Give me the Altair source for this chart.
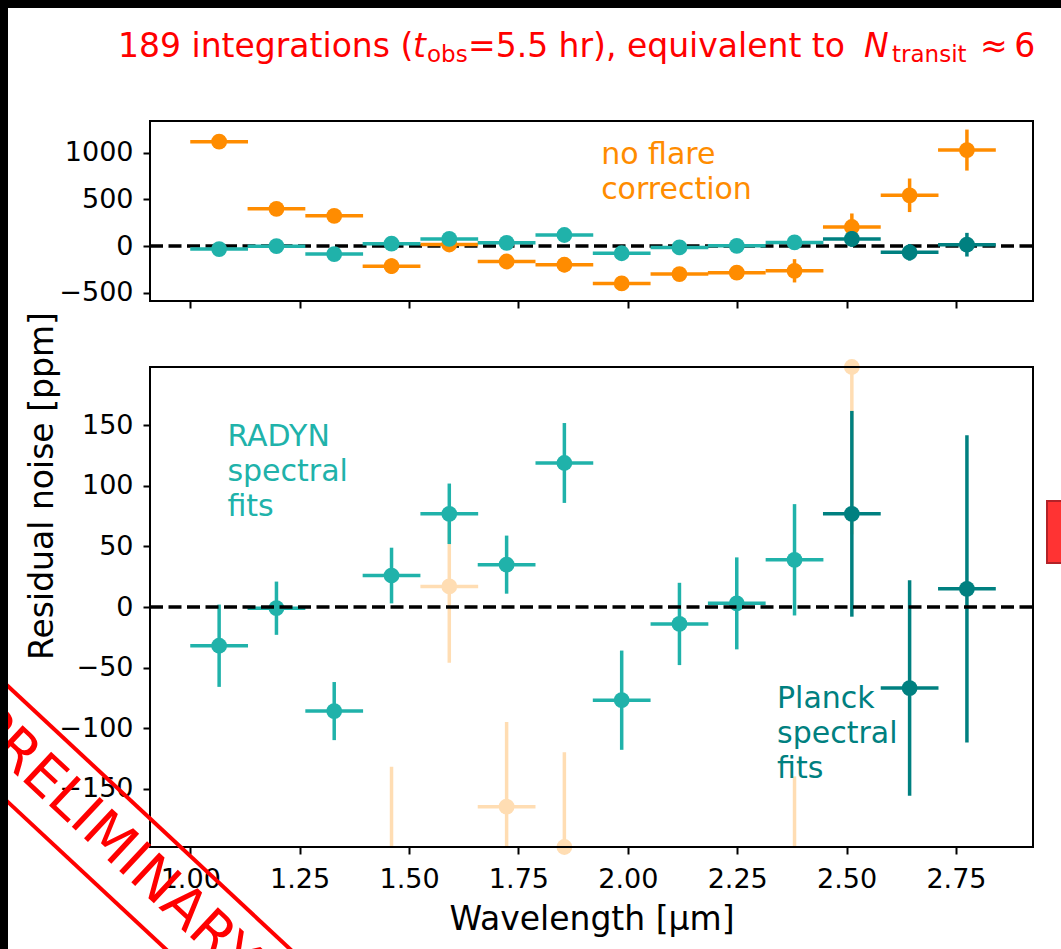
import altair as alt
import pandas as pd

# ---------------- values ----------------
wavelength = [1.066, 1.197, 1.329, 1.460, 1.592, 1.723, 1.855, 1.986, 2.118, 2.249, 2.381, 2.512, 2.644, 2.775]
bin_half_width = [0.066, 0.066, 0.066, 0.066, 0.066, 0.066, 0.066, 0.066, 0.066, 0.066, 0.066, 0.066, 0.066, 0.066]
fit_residual = [-32, -1, -86, 26, 77, 35, 119, -77, -14, 3, 39, 77, -67, 15]
fit_error = [34, 22, 24, 23, 25, 24, 33, 41, 34, 38, 46, 85, 89, 127]
fit_model = ["RADYN", "RADYN", "RADYN", "RADYN", "RADYN", "RADYN", "RADYN",
             "RADYN", "RADYN", "RADYN", "RADYN", "Planck", "Planck", "Planck"]
raw_residual = [1120, 400, 325, -215, 17, -165, -200, -400, -300, -285, -265, 205, 545, 1030]
raw_error = [40, 40, 40, 83, 63, 70, 80, 45, 45, 50, 125, 145, 180, 220]

x_domain = [0.908, 2.926]
top_y_domain = [-589, 1342]
bottom_y_domain = [-198.3, 198.3]
x_ticks = [1.0, 1.25, 1.5, 1.75, 2.0, 2.25, 2.5, 2.75]
top_y_ticks = [-500, 0, 500, 1000]
bottom_y_ticks = [-150, -100, -50, 0, 50, 100, 150]

title_parts = ["189 integrations (", "t", "obs", "=5.5 hr), equivalent to", "N", "transit", "\u2248\u20096"]
annot_noflare = ["no flare", "correction"]
annot_radyn = ["RADYN", "spectral", "fits"]
annot_planck = ["Planck", "spectral", "fits"]
x_title = "Wavelength [\u03bcm]"
y_title = "Residual noise [ppm]"
stamp_text = "PRELIMINARY"

# ---------------- tables ----------------
df = pd.DataFrame({
    "wl": wavelength,
    "hw": bin_half_width,
    "fit": fit_residual,
    "fit_err": fit_error,
    "model": fit_model,
    "raw": raw_residual,
    "raw_err": raw_error,
})
df["lo"] = df["wl"] - df["hw"]
df["hi"] = df["wl"] + df["hw"]
df["fit_lo"] = df["fit"] - df["fit_err"]
df["fit_hi"] = df["fit"] + df["fit_err"]
df["raw_lo"] = df["raw"] - df["raw_err"]
df["raw_hi"] = df["raw"] + df["raw_err"]
one = pd.DataFrame({"k": [0]})

# ---------------- styles ----------------
FONT = "DejaVu Sans"
ORANGE = "#FF8C00"
FADED = "#FFDDB3"
RADYN_C = "#20B2AA"
PLANCK_C = "#008080"
LW = 3.5
MS = 250

X = alt.Scale(domain=x_domain, range=[150, 1033], nice=False, zero=False)
YT = alt.Scale(domain=top_y_domain, range=[301, 121], nice=False, zero=False)
YB = alt.Scale(domain=bottom_y_domain, range=[847, 367], nice=False, zero=False, clamp=True)

model_color = alt.Color("model:N", scale=alt.Scale(domain=["RADYN", "Planck"], range=[RADYN_C, PLANCK_C]), legend=None)

base = alt.Chart(df)


def series(ycol, locol, hicol, yscale, color, pt_filter=None, bar_filter=None):
    xb = base
    pts = base
    if bar_filter:
        xb = xb.transform_filter(bar_filter)
    if pt_filter:
        pts = pts.transform_filter(pt_filter)
    xbar = xb.mark_rule(strokeWidth=LW).encode(
        x=alt.X("lo:Q", scale=X, axis=None), x2="hi:Q",
        y=alt.Y(f"{ycol}:Q", scale=yscale, axis=None), color=color)
    ybar = base.mark_rule(strokeWidth=LW).encode(
        x=alt.X("wl:Q", scale=X, axis=None),
        y=alt.Y(f"{locol}:Q", scale=yscale, axis=None), y2=f"{hicol}:Q", color=color)
    dots = pts.mark_circle(size=MS, opacity=1).encode(
        x=alt.X("wl:Q", scale=X, axis=None),
        y=alt.Y(f"{ycol}:Q", scale=yscale, axis=None), color=color)
    return [xbar, ybar, dots]


def zero_line(yscale):
    return alt.Chart(one).mark_rule(color="black", strokeWidth=3.5, strokeDash=[13, 5.5]).encode(
        x=alt.XDatum(x_domain[0], type="quantitative", scale=X, axis=None),
        x2=alt.X2Datum(x_domain[1]),
        y=alt.YDatum(0, type="quantitative", scale=yscale, axis=None))


def axis(orient, offset, values, labels=True, fmt=None):
    kw = dict(orient=orient, offset=offset, values=values, labels=labels, ticks=True,
              tickSize=7, tickWidth=2, tickColor="black", domain=False, grid=False,
              title=None, labelFont=FONT, labelFontSize=27, labelColor="black",
              labelPadding=12 if orient == "bottom" else 10, labelFlush=False,
              labelOverlap=False)
    if fmt:
        kw["format"] = fmt
    return alt.Axis(**kw)


def frame(yscale, ydom, yaxis, xaxis):
    return alt.Chart(one).mark_rect(fillOpacity=0, stroke="black", strokeWidth=2).encode(
        x=alt.XDatum(x_domain[0], type="quantitative", scale=X, axis=xaxis),
        x2=alt.X2Datum(x_domain[1]),
        y=alt.YDatum(ydom[0], type="quantitative", scale=yscale, axis=yaxis),
        y2=alt.Y2Datum(ydom[1]))


def data_text(lines, xv, yv, yscale, color):
    return alt.Chart(one).mark_text(
        text=lines, align="left", baseline="alphabetic", font=FONT, fontSize=30,
        lineHeight=35, color=color).encode(
        x=alt.XDatum(xv, type="quantitative", scale=X, axis=None),
        y=alt.YDatum(yv, type="quantitative", scale=yscale, axis=None))


def px_text(text, xp, yp, size, color="black", style="normal", align="left", baseline="alphabetic", angle=0):
    return alt.Chart(one).mark_text(
        text=text, align=align, baseline=baseline, font=FONT, fontSize=size,
        fontStyle=style, color=color, angle=angle).encode(
        x=alt.value(xp), y=alt.value(yp))


def px_rect(x1, x2, y1, y2, fill, stroke=None, sw=0):
    kw = dict(fill=fill, strokeWidth=sw)
    if stroke:
        kw["stroke"] = stroke
    return alt.Chart(one).mark_rect(**kw).encode(
        x=alt.value(x1), x2=alt.value(x2), y=alt.value(y1), y2=alt.value(y2))


def px_line(x1, y1, x2, y2, color, sw):
    return alt.Chart(one).mark_rule(color=color, strokeWidth=sw).encode(
        x=alt.value(x1), y=alt.value(y1), x2=alt.value(x2), y2=alt.value(y2))


layers = []

# ---- top panel ----
layers.append(zero_line(YT))
layers += series("raw", "raw_lo", "raw_hi", YT, alt.value(ORANGE))
layers += series("fit", "fit_lo", "fit_hi", YT, model_color)
layers.append(data_text(annot_noflare, 1.939, 880, YT, ORANGE))
layers.append(frame(YT, top_y_domain,
                    axis("left", -150, top_y_ticks, fmt="d"),
                    axis("bottom", -648, x_ticks, labels=False)))

# ---- bottom panel ----
layers += series("raw", "raw_lo", "raw_hi", YB, alt.value(FADED),
                 pt_filter="datum.raw >= -207 && datum.raw <= 207",
                 bar_filter="datum.raw >= -198.3 && datum.raw <= 198.3")
layers += series("fit", "fit_lo", "fit_hi", YB, model_color)
layers.append(zero_line(YB))
layers.append(data_text(annot_radyn, 1.085, 133, YB, RADYN_C))
layers.append(data_text(annot_planck, 2.341, -83.5, YB, PLANCK_C))
layers.append(frame(YB, bottom_y_domain,
                    axis("left", -150, bottom_y_ticks, fmt="d"),
                    axis("bottom", -102, x_ticks, fmt=".2f")))

# ---- axis titles ----
layers.append(px_text(x_title, 592, 930, 33, align="center"))
layers.append(px_text(y_title, 53, 486, 33, align="center", angle=270))

# ---- figure title (mixed styles) ----
RED = "#FF0000"
layers.append(px_text(title_parts[0], 118, 57, 33, RED))
layers.append(px_text(title_parts[1], 413, 57, 33, RED, style="italic"))
layers.append(px_text(title_parts[2], 427, 62, 23, RED))
layers.append(px_text(title_parts[3], 468, 57, 33, RED))
layers.append(px_text(title_parts[4], 864, 57, 33, RED, style="italic"))
layers.append(px_text(title_parts[5], 892, 62, 23, RED))
layers.append(px_text(title_parts[6], 980, 57, 33, RED))

# ---- side marker ----
layers.append(px_rect(1047, 1075, 501, 563, "#FF3333", "#B22228", 2))

# ---- PRELIMINARY stamp ----
layers.append(px_text(stamp_text, 113, 842, 56, RED, align="center", baseline="middle", angle=43))
layers.append(px_line(-20, 660, 320, 977, RED, 4))
layers.append(px_line(-20, 776, 200, 981, RED, 4))

# ---- black slide border ----
layers.append(px_rect(0, 1061, 0, 8, "black"))
layers.append(px_rect(0, 8, 0, 949, "black"))

chart = alt.layer(*layers).resolve_scale(
    x="independent", y="independent"
).properties(
    width=1061, height=949,
    autosize=alt.AutoSizeParams(type="none"),
    padding=0,
    background="white",
).configure_view(stroke=None)

chart.save("out.html", embed_options={"renderer": "svg", "actions": False})
